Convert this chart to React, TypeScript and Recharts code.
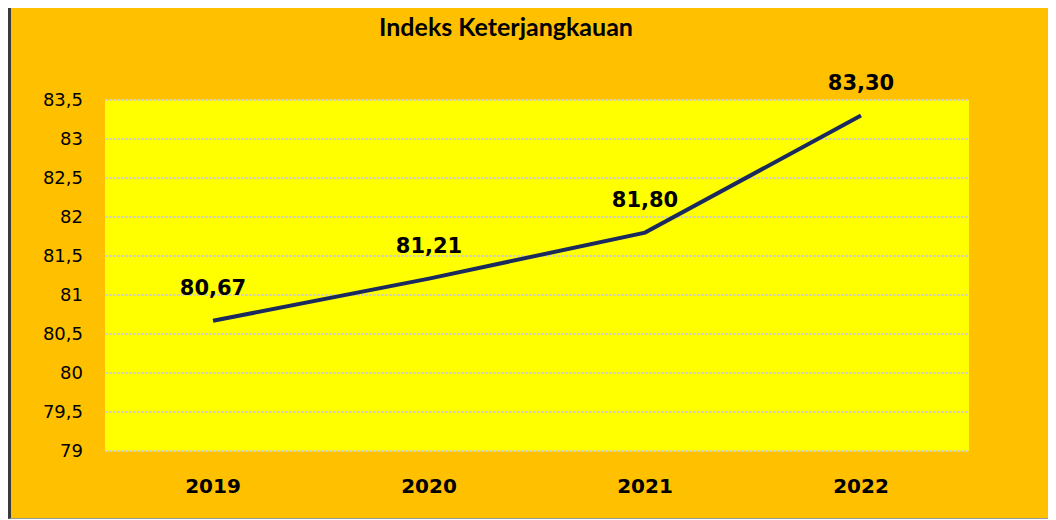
import { LineChart, Line, XAxis, YAxis, CartesianGrid, LabelList } from 'recharts';

const years = ['2019', '2020', '2021', '2022'];
const indeks = [80.67, 81.21, 81.8, 83.3];
const yTicks = [79, 79.5, 80, 80.5, 81, 81.5, 82, 82.5, 83, 83.5];

const data = years.map((year, i) => ({ year, value: indeks[i] }));

const comma = (v: number, digits?: number) =>
  (digits === undefined ? String(v) : v.toFixed(digits)).replace('.', ',');

export default function App() {
  return (
    <div style={{
      position: 'relative',
      width: 1048,
      height: 511,
      marginTop: -3,
      background: '#FFC000',
      borderLeft: '3px solid #3a3a3a',
      borderTop: '2px solid #3a3a3a',
      borderBottom: '1px solid #9a9a9a',
      fontFamily: 'DejaVu Sans, sans-serif',
    }}>
      <div style={{
        position: 'absolute', left: 0, width: 990, top: 4, textAlign: 'center',
        fontFamily: 'Lato, sans-serif', fontWeight: 700, fontSize: 25, color: '#000',
      }}>
        Indeks Keterjangkauan
      </div>
      <LineChart width={1045} height={510} data={data}
        margin={{ top: 93, right: 87, bottom: 10, left: 34 }}>
        <CartesianGrid vertical={false} stroke="#d0d0d0" strokeWidth={2}
          strokeDasharray="3 1" fill="#FFFF00" fillOpacity={1} />
        <XAxis dataKey="year" axisLine={false} tickLine={false} height={56}
          padding={{ left: 108, right: 108 }} tickMargin={22}
          tick={{ fill: '#000', fontSize: 20, fontWeight: 700 }} />
        <YAxis domain={[79, 83.5]} ticks={yTicks} axisLine={false} tickLine={false}
          width={60} tickMargin={16} interval={0}
          tickFormatter={(v: number) => comma(v)}
          tick={{ fill: '#000', fontSize: 18 }} />
        <Line dataKey="value" stroke="#1a2a5e" strokeWidth={4} dot={false}
          isAnimationActive={false}>
          <LabelList dataKey="value" position="top" offset={26}
            formatter={(v: number) => comma(v, 2)}
            style={{ fill: '#000', fontSize: 21, fontWeight: 700 }} />
        </Line>
      </LineChart>
    </div>
  );
}
